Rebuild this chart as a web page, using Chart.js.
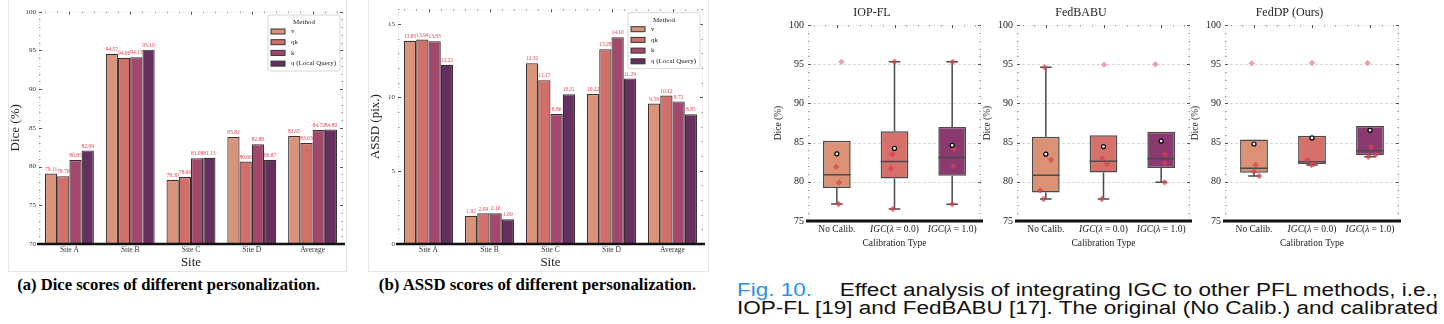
<!DOCTYPE html>
<html><head><meta charset="utf-8">
<script src="https://cdn.jsdelivr.net/npm/chart.js@4.4.1/dist/chart.umd.min.js"></script>
<style>
html,body{margin:0;padding:0;background:#fff;width:1444px;height:324px;overflow:hidden;position:relative}
canvas{position:absolute}
.frame{position:absolute;border:1px solid #e6e6e6;border-top:none}
.cap{position:absolute;font-family:"Liberation Serif",serif;font-weight:bold;white-space:nowrap;text-align:center;color:#000}
.fig{position:absolute;left:737px;font-family:"Liberation Sans",Arial,sans-serif;font-size:18px;line-height:19px;white-space:nowrap;color:#111;transform-origin:0 0;text-align:justify;text-align-last:justify}
#f1{display:flex;justify-content:space-between}
.fig span.b{color:#2a93e4}
</style></head><body>
<div class="frame" style="left:8px;top:0;width:337px;height:271px"></div>
<div class="frame" style="left:368px;top:0;width:339px;height:271px"></div>
<canvas id="cA" width="350" height="272" style="left:0;top:0;width:350px;height:272px"></canvas>
<canvas id="cB" width="350" height="272" style="left:360px;top:0;width:350px;height:272px"></canvas>
<canvas id="c1" width="226" height="251" style="left:763px;top:0;width:226px;height:251px"></canvas>
<canvas id="c2" width="226" height="251" style="left:972px;top:0;width:226px;height:251px"></canvas>
<canvas id="c3" width="227" height="251" style="left:1180px;top:0;width:227px;height:251px"></canvas>
<div class="cap" style="left:0;top:275px;width:337px;font-size:16.6px">(a) Dice scores of different personalization.</div>
<div class="cap" style="left:368px;top:275px;width:339px;font-size:16.8px">(b) ASSD scores of different personalization.</div>
<div class="fig" id="f1" style="top:281px"><span class="b">Fig. 10.</span><span>Effect analysis of integrating IGC to other PFL methods, i.e.,</span></div>
<div class="fig" id="f2" style="top:299px"><span id="f2in">IOP-FL [19] and FedBABU [17]. The original (No Calib.) and calibrated</span></div>
<script>
// ---------------- data ----------------
const sites = ['Site A', 'Site B', 'Site C', 'Site D', 'Average'];
const methods = ['v', 'qk', 'k', 'q (Local Query)'];
const diceV  = [79.11, 94.57, 78.30, 83.82, 83.95];
const diceQK = [78.76, 94.06, 78.66, 80.66, 83.03];
const diceK  = [80.85, 94.13, 81.08, 82.88, 84.72];
const diceQ  = [82.09, 95.10, 81.13, 80.87, 84.80];
const assdV  = [13.85, 1.92, 12.32, 10.22, 9.58];
const assdQK = [13.94, 2.09, 11.17, 13.28, 10.12];
const assdK  = [13.83, 2.10, 8.86, 14.10, 9.72];
const assdQ  = [12.22, 1.69, 10.21, 11.29, 8.85];
const diceTicks = [70, 75, 80, 85, 90, 95, 100];
const assdTicks = [0, 5, 10, 15];
const boxTicks = [75, 80, 85, 90, 95, 100];
const calibTypes = ['No Calib.', 'IGC(λ = 0.0)', 'IGC(λ = 1.0)'];
const panelTitles = ['IOP-FL', 'FedBABU', 'FedDP (Ours)'];
// per-site Dice (4 sites) for each calibration type
const iopNoCalib  = [77.17, 79.90, 81.90, 95.30];
const iopIGC0     = [76.53, 81.70, 83.50, 95.30];
const iopIGC1     = [77.13, 82.00, 84.20, 95.30];
const babuNoCalib = [77.80, 78.90, 82.80, 94.60];
const babuIGC0    = [77.80, 82.30, 82.95, 94.94];
const babuIGC1    = [79.93, 82.36, 83.50, 95.00];
const dpNoCalib   = [80.74, 81.29, 82.14, 95.11];
const dpIGC0      = [82.14, 82.30, 82.80, 95.15];
const dpIGC1      = [83.20, 83.45, 84.45, 95.15];
// strip-plot horizontal offsets (category units)
const iopJitter  = [[0.03, 0.04, -0.01, 0.08], [-0.03, -0.06, -0.035, 0], [0, 0.02, 0.03, 0.01]];
const babuJitter = [[-0.04, -0.1, 0.09, -0.02], [-0.03, 0.06, -0.02, 0.01], [0.06, 0.06, 0.07, -0.1]];
const dpJitter   = [[0.09, 0, 0.03, -0.04], [-0.01, 0.03, -0.08, 0], [-0.03, 0.1, 0.02, -0.04]];

// ---------------- caption fitting ----------------
(function () {
  const inner = document.getElementById('f2in');
  const w = inner.getBoundingClientRect().width;
  const s = 701 / w;
  ['f1', 'f2'].forEach(id => {
    const el = document.getElementById(id);
    el.style.width = w + 'px';
    el.style.transform = 'scaleX(' + s + ')';
  });
})();

// ---------------- styles ----------------
const SERIF = '"Liberation Serif", "DejaVu Serif", serif';
const barColors = ['#d9937b', '#d1706a', '#a2486c', '#652f60'];
const boxColors = ['#dc9074', '#d5706a', '#8b3a70'];

const spinePlugin = {
  id: 'spines',
  beforeDatasetsDraw(chart, args, o) {
    if (!o || !o.grid) return;
    const {ctx, chartArea: {left, right}} = chart;
    const ys = chart.scales.y;
    ctx.save();
    ctx.strokeStyle = '#cfcfcf'; ctx.lineWidth = 0.8; ctx.setLineDash([3, 2]);
    o.grid.forEach(v => {
      const y = Math.round(ys.getPixelForValue(v)) + 0.5;
      ctx.beginPath(); ctx.moveTo(left, y); ctx.lineTo(right, y); ctx.stroke();
    });
    ctx.restore();
  },
  afterDraw(chart, args, o) {
    if (!o || !o.on) return;
    const {ctx, chartArea: {left, right, top, bottom}} = chart;
    const ys = chart.scales.y, xs = chart.scales.x;
    const majors = ys.ticks.map(t => t.value);
    ctx.save();
    ctx.lineWidth = 1;
    ctx.strokeStyle = '#d8d8d8'; ctx.setLineDash([1, 2]);
    ctx.beginPath();
    ctx.moveTo(left + 0.5, bottom); ctx.lineTo(left + 0.5, top + 0.5); ctx.lineTo(right - 0.5, top + 0.5); ctx.lineTo(right - 0.5, bottom);
    ctx.stroke();
    ctx.setLineDash([]);
    for (let v = ys.min; v <= ys.max + 1e-6; v += o.minor) {
      const y = Math.round(ys.getPixelForValue(v)) + 0.5;
      const isMajor = majors.some(m => Math.abs(m - v) < 1e-6);
      ctx.strokeStyle = isMajor ? '#555' : '#999';
      const len = isMajor ? 3 : 1.5;
      ctx.beginPath();
      ctx.moveTo(left, y); ctx.lineTo(left + len, y);
      ctx.moveTo(right, y); ctx.lineTo(right - len, y);
      ctx.stroke();
    }
    const n = chart.data.labels.length;
    const p0 = xs.getPixelForValue(0), step = xs.getPixelForValue(1) - p0;
    for (let k = -2; k <= (n - 1) * 5 + 2; k++) {
      const x = Math.round(p0 + k / 5 * step) + 0.5;
      const isMajor = k % 5 === 0;
      ctx.strokeStyle = isMajor ? '#555' : '#999';
      ctx.beginPath(); ctx.moveTo(x, top); ctx.lineTo(x, top + (isMajor ? 3 : 1.5)); ctx.stroke();
    }
    ctx.strokeStyle = '#111'; ctx.lineWidth = o.axisWidth;
    ctx.beginPath(); ctx.moveTo(left - 2, bottom); ctx.lineTo(right + 2, bottom); ctx.stroke();
    ctx.restore();
  }
};

const barLabelPlugin = {
  id: 'barLabels',
  afterDatasetsDraw(chart, args, o) {
    if (!o || !o.on) return;
    const {ctx} = chart;
    ctx.save();
    ctx.font = '5.5px ' + SERIF; ctx.fillStyle = '#ea3f4f';
    ctx.textAlign = 'center'; ctx.textBaseline = 'bottom';
    chart.data.datasets.forEach((ds, di) => {
      chart.getDatasetMeta(di).data.forEach((bar, i) => {
        ctx.fillText(ds.data[i].toFixed(2), bar.x, bar.y - 1.5);
      });
    });
    ctx.restore();
  }
};

const legendPlugin = {
  id: 'boxLegend',
  afterDraw(chart, args, o) {
    if (!o || !o.on) return;
    const {ctx, chartArea: {right, top}} = chart;
    const w = 72, h = 56, x0 = right - o.dx - w, y0 = top + o.dy;
    ctx.save();
    ctx.fillStyle = 'rgba(255,255,255,0.9)'; ctx.strokeStyle = '#cccccc'; ctx.lineWidth = 0.8;
    ctx.beginPath(); ctx.roundRect(x0, y0, w, h, 2); ctx.fill(); ctx.stroke();
    ctx.fillStyle = '#222'; ctx.font = '7px ' + SERIF; ctx.textAlign = 'center'; ctx.textBaseline = 'middle';
    ctx.fillText('Method', x0 + w / 2, y0 + 7);
    ctx.textAlign = 'left';
    chart.data.datasets.forEach((ds, i) => {
      const yc = y0 + 16.5 + i * 10.7;
      ctx.fillStyle = ds.backgroundColor; ctx.strokeStyle = '#333'; ctx.lineWidth = 1;
      ctx.fillRect(x0 + 3, yc - 2.5, 14, 5); ctx.strokeRect(x0 + 3, yc - 2.5, 14, 5);
      ctx.fillStyle = '#222';
      ctx.fillText(ds.label, x0 + 23, yc);
    });
    ctx.restore();
  }
};

const mathLabelPlugin = {
  id: 'mathLabels',
  afterDraw(chart, args, o) {
    if (!o || !o.on) return;
    const {ctx, chartArea: {bottom}} = chart;
    const xs = chart.scales.x;
    ctx.save();
    ctx.fillStyle = '#222'; ctx.textBaseline = 'middle'; ctx.textAlign = 'left';
    const up = '9.5px ' + SERIF, it = 'italic 9.5px ' + SERIF;
    chart.data.labels.forEach((lab, i) => {
      const parts = lab.includes('λ')
        ? lab.split(/([A-Za-zλ]+)/).filter(s => s).map(s => ({s, f: /^[A-Za-zλ]+$/.test(s) ? it : up}))
        : [{s: lab, f: up}];
      let w = 0;
      parts.forEach(p => { ctx.font = p.f; w += ctx.measureText(p.s).width; });
      let x = xs.getPixelForValue(i) - w / 2;
      parts.forEach(p => { ctx.font = p.f; ctx.fillText(p.s, x, bottom + 8.5); x += ctx.measureText(p.s).width; });
    });
    ctx.restore();
  }
};
Chart.register(spinePlugin, barLabelPlugin, legendPlugin, mathLabelPlugin);

function makeBars(id, series, ticks, ymin, ymax, yTitle, padTop, yW, legDy) {
  new Chart(document.getElementById(id), {
    type: 'bar',
    data: {
      labels: sites,
      datasets: series.map((d, i) => ({
        label: methods[i], data: d, backgroundColor: barColors[i],
        borderColor: '#3a3030', borderWidth: 1.2, categoryPercentage: 0.805, barPercentage: 1
      }))
    },
    options: {
      responsive: false, animation: false, events: [],
      layout: {padding: {top: padTop, right: 7, left: 0, bottom: 0}},
      plugins: {legend: {display: false}, tooltip: {enabled: false},
        spines: {on: true, minor: 1, axisWidth: 2.5}, barLabels: {on: true},
        boxLegend: {on: true, dx: 3, dy: legDy}},
      scales: {
        x: {grid: {display: false, drawTicks: false}, border: {display: false},
          ticks: {font: {family: SERIF, size: 7.5}, color: '#333', padding: 2},
          afterFit: s => { s.height = 28; },
          title: {display: true, text: 'Site', font: {family: SERIF, size: 13}, color: '#222', padding: {top: 0, bottom: 1.2}}},
        y: {min: ymin, max: ymax, afterBuildTicks: s => { s.ticks = ticks.map(v => ({value: v})); },
          grid: {display: false, drawTicks: false}, border: {display: false},
          ticks: {font: {family: SERIF, size: 7}, color: '#333', padding: 3},
          afterFit: s => { s.width = yW; },
          title: {display: true, text: yTitle, font: {family: SERIF, size: 13}, color: '#222', padding: {top: 8, bottom: 0}}}
      }
    }
  });
}
makeBars('cA', [diceV, diceQK, diceK, diceQ], diceTicks, 70, 100, 'Dice (%)', 11.7, 39, 3.3);
makeBars('cB', [assdV, assdQK, assdK, assdQ], assdTicks, 0, 16, 'ASSD (pix.)', 9.3, 38, 3.4);

function quantile(s, p) {
  const pos = p * (s.length - 1), lo = Math.floor(pos), hi = Math.min(lo + 1, s.length - 1);
  return s[lo] + (pos - lo) * (s[hi] - s[lo]);
}
function boxStats(vals) {
  const s = [...vals].sort((a, b) => a - b);
  const q1 = quantile(s, 0.25), med = quantile(s, 0.5), q3 = quantile(s, 0.75), iqr = q3 - q1;
  const loF = q1 - 1.5 * iqr, hiF = q3 + 1.5 * iqr;
  const inside = s.filter(v => v >= loF && v <= hiF);
  let wLo = Math.min(...inside), wHi = Math.max(...inside);
  if (wLo > q1) wLo = q1;
  if (wHi < q3) wHi = q3;
  const mean = s.reduce((a, b) => a + b, 0) / s.length;
  return {q1, med, q3, wLo, wHi, mean, isOut: v => v < loF || v > hiF};
}

function makeBox(id, title, groups, jitter) {
  const stats = groups.map(boxStats);
  const half = 0.24, cap = 0.1;
  const segs = [];
  stats.forEach((s, i) => {
    segs.push({x: i - half, y: s.med}, {x: i + half, y: s.med}, {x: i, y: null});
    if (s.wLo < s.q1) segs.push({x: i, y: s.q1}, {x: i, y: s.wLo}, {x: i, y: null}, {x: i - cap, y: s.wLo}, {x: i + cap, y: s.wLo}, {x: i, y: null});
    if (s.wHi > s.q3) segs.push({x: i, y: s.q3}, {x: i, y: s.wHi}, {x: i, y: null}, {x: i - cap, y: s.wHi}, {x: i + cap, y: s.wHi}, {x: i, y: null});
  });
  const pts = [], outs = [];
  groups.forEach((g, i) => g.forEach((v, j) => {
    (stats[i].isOut(v) ? outs : pts).push({x: i + jitter[i][j], y: v});
  }));
  const means = stats.map((s, i) => ({x: i, y: s.mean}));
  new Chart(document.getElementById(id), {
    type: 'bar',
    data: {
      labels: calibTypes,
      datasets: [
        {type: 'bar', data: stats.map((s, i) => ({x: i, y: [s.q1, s.q3]})), backgroundColor: boxColors, borderColor: '#4a4a4a',
          borderWidth: 1.5, borderSkipped: false, barPercentage: 0.48, categoryPercentage: 1, order: 5},
        {type: 'line', data: segs, borderColor: '#4a4a4a', borderWidth: 1.5, pointRadius: 0,
          spanGaps: false, tension: 0, fill: false, order: 4},
        {type: 'scatter', data: outs, pointStyle: 'rectRot', pointRadius: 3.2,
          backgroundColor: 'rgba(236,150,160,0.9)', borderWidth: 0, order: 3},
        {type: 'scatter', data: pts, pointStyle: 'rectRot', pointRadius: 3.2,
          backgroundColor: 'rgba(214,66,78,0.72)', borderWidth: 0, order: 2},
        {type: 'scatter', data: means, pointStyle: 'circle', pointRadius: 2,
          backgroundColor: '#fff', borderColor: '#000', borderWidth: 1.2, order: 1}
      ]
    },
    options: {
      responsive: false, animation: false, events: [],
      layout: {padding: {top: 0, right: 8, left: 0, bottom: 0}},
      plugins: {legend: {display: false}, tooltip: {enabled: false},
        title: {display: true, text: title, font: {family: SERIF, size: 12, weight: 'normal'}, color: '#222', padding: {top: 6, bottom: 4.6}},
        spines: {on: true, minor: 1, axisWidth: 3, grid: [80, 85, 90, 95]}, mathLabels: {on: true}},
      scales: {
        x: {type: 'linear', min: -0.5, max: 2.5, offset: false,
          afterBuildTicks: s => { s.ticks = calibTypes.map((_, i) => ({value: i})); },
          grid: {display: false, drawTicks: false}, border: {display: false},
          ticks: {display: false}, afterFit: s => { s.height = 30; },
          title: {display: true, text: 'Calibration Type', font: {family: SERIF, size: 9.5}, color: '#222', padding: {top: 0, bottom: 2}}},
        y: {min: 75, max: 100, afterBuildTicks: s => { s.ticks = boxTicks.map(v => ({value: v})); },
          grid: {display: false, drawTicks: false}, border: {display: false},
          ticks: {font: {family: SERIF, size: 10}, color: '#222', padding: 4},
          afterFit: s => { s.width = 45; },
          title: {display: true, text: 'Dice (%)', font: {family: SERIF, size: 9.5}, color: '#222', padding: {top: 10, bottom: 0}}}
      }
    }
  });
}
makeBox('c1', panelTitles[0], [iopNoCalib, iopIGC0, iopIGC1], iopJitter);
makeBox('c2', panelTitles[1], [babuNoCalib, babuIGC0, babuIGC1], babuJitter);
makeBox('c3', panelTitles[2], [dpNoCalib, dpIGC0, dpIGC1], dpJitter);
</script>
</body></html>
